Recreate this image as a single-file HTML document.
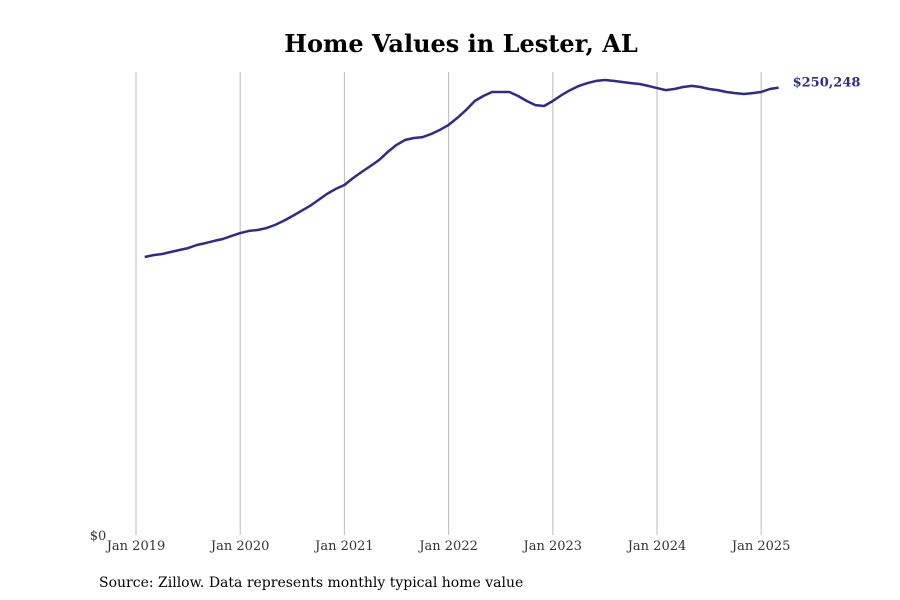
<!DOCTYPE html>
<html><head><meta charset="utf-8"><style>
body{margin:0;background:#fff}
svg{display:block;font-family:"DejaVu Serif","Liberation Serif",serif}
</style></head><body>
<svg id="chart" width="900" height="600">
<text x="461" y="52" text-anchor="middle" font-size="24" font-weight="bold" fill="#000">Home Values in Lester, AL</text>
<g id="grid"></g>
<g id="xticks"></g>
<text x="98" y="540" text-anchor="middle" font-size="13" fill="#333">$0</text>
<path id="line" fill="none" stroke="#2e2b8f" stroke-width="2.5" stroke-linejoin="round"/>
<text id="endlabel" font-size="13" font-weight="bold" fill="#2e2b8f"></text>
<text x="99" y="587" font-size="14" fill="#000">Source: Zillow. Data represents monthly typical home value</text>
</svg>
<script>
const startYear = 2019, startMonth = 1; // Feb 2019 (0-indexed month)
const tickLabels = ["Jan 2019","Jan 2020","Jan 2021","Jan 2022","Jan 2023","Jan 2024","Jan 2025"];
const values = [
155.5,156.6,157.2,158.3,159.4,160.5,162.2,163.3,164.5,165.6,167.3,
168.9,170.1,170.6,171.7,173.4,175.7,178.4,181.2,184.0,187.4,190.8,193.6,
195.8,199.7,203.1,206.4,209.8,214.3,218.2,221.0,222.1,222.6,224.3,226.6,
229.4,233.3,237.7,242.8,245.6,247.8,247.8,247.8,245.6,242.8,240.5,240.0,
242.8,246.1,248.9,251.2,252.8,254.0,254.5,254.0,253.4,252.8,252.3,251.2,
250.0,248.9,249.5,250.6,251.2,250.6,249.5,248.9,247.8,247.2,246.7,247.2,
247.8,249.5,250.248];
const NS="http://www.w3.org/2000/svg";
const x0=136, pxPerYear=104.2, yBase=535, yTop=72, yMax=259;
const xs = m => x0 + (m/12)*pxPerYear; // m = months since Jan 2019
const ys = v => yBase - (v/yMax)*(yBase-yTop);
const svg=document.getElementById('chart');
const grid=document.getElementById('grid'), xt=document.getElementById('xticks');
tickLabels.forEach((t,i)=>{
  const x=xs(i*12);
  const l=document.createElementNS(NS,'line');
  l.setAttribute('x1',x);l.setAttribute('x2',x);l.setAttribute('y1',yTop);l.setAttribute('y2',yBase);
  l.setAttribute('stroke','#bbb');l.setAttribute('stroke-width','1');
  
  
  grid.appendChild(l);
  const tx=document.createElementNS(NS,'text');
  tx.setAttribute('x',x);tx.setAttribute('y',550);tx.setAttribute('text-anchor','middle');
  tx.setAttribute('font-size','13');tx.setAttribute('fill','#333');tx.textContent=t;
  
  
  xt.appendChild(tx);
});
let d='';
values.forEach((v,i)=>{ d+=(i?'L':'M')+xs(i+startMonth).toFixed(1)+','+ys(v).toFixed(1); });
document.getElementById('line').setAttribute('d',d);
const last=values[values.length-1];
const el=document.getElementById('endlabel');
el.setAttribute('x',xs(values.length-1+startMonth)+14);
el.setAttribute('y',ys(last)-1);
el.textContent='$'+Math.round(last*1000).toLocaleString('en-US');
</script>
</body></html>
